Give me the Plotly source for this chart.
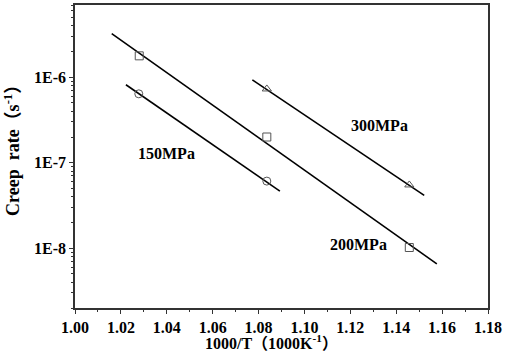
import numpy as np
import plotly.graph_objects as go

# measured creep rates (s^-1) vs 1000/T
x_150 = [1.0278, 1.0836]
y_150 = [6.4e-7, 6.1e-8]
x_200 = [1.028, 1.0836, 1.1457]
y_200 = [1.78e-6, 2.0e-7, 1.02e-8]
x_300 = [1.0836, 1.1457]
y_300 = [7.3e-7, 5.5e-8]

# fitted lines (end points)
fit_x_150 = [1.0222, 1.0893]
fit_y_150 = [8.17e-7, 4.66e-8]
fit_x_200 = [1.016, 1.1577]
fit_y_200 = [3.23e-6, 6.55e-9]
fit_x_300 = [1.0773, 1.1522]
fit_y_300 = [9.31e-7, 4.15e-8]

labels = ["150MPa", "200MPa", "300MPa"]
label_x = [1.040, 1.1235, 1.1326]
label_y = [1.27e-7, 1.11e-8, 2.74e-7]

x_ticks = [1.00, 1.02, 1.04, 1.06, 1.08, 1.10, 1.12, 1.14, 1.16, 1.18]
y_ticks = [1e-8, 1e-7, 1e-6]
y_tick_text = ["1E-8", "1E-7", "1E-6"]

FONT = "Liberation Serif, Times New Roman, Noto Sans CJK SC, serif"
MARK = "#555555"

fig = go.Figure()

for fx, fy in [(fit_x_150, fit_y_150), (fit_x_200, fit_y_200), (fit_x_300, fit_y_300)]:
    fig.add_trace(go.Scatter(x=fx, y=fy, mode="lines",
                             line=dict(color="black", width=1.6), showlegend=False))

for xs, ys, sym in [(x_150, y_150, "circle-open"), (x_200, y_200, "square-open"),
                    (x_300, y_300, "triangle-up-open")]:
    fig.add_trace(go.Scatter(x=xs, y=ys, mode="markers",
                             marker=dict(symbol=sym, size=8, color=MARK, line=dict(width=1)),
                             showlegend=False))

for t, lx, ly in zip(labels, label_x, label_y):
    fig.add_annotation(x=lx, y=np.log10(ly), text="<b>%s</b>" % t, showarrow=False,
                       font=dict(family=FONT, size=16, color="black"))

# axis titles placed as annotations to match the original layout
fig.add_annotation(xref="paper", yref="paper", x=0.476, y=-0.113, xanchor="center",
                   yanchor="middle", showarrow=False,
                   text="<b>1000/T（1000K<sup>-1</sup>）</b>",
                   font=dict(family=FONT, size=16, color="black"))
fig.add_annotation(xref="paper", yref="paper", x=-0.153, y=0.534, xanchor="center",
                   yanchor="middle", showarrow=False, textangle=-90,
                   text="<b>Creep  rate（s<sup>-1</sup>）</b>",
                   font=dict(family=FONT, size=18, color="black"))

axis_common = dict(showline=True, mirror=True, linecolor="#333333", linewidth=1.6,
                   showgrid=False, zeroline=False, ticks="outside", ticklen=4,
                   tickcolor="#333333", tickwidth=1.2,
                   tickfont=dict(family=FONT, size=16, color="black"))

fig.update_xaxes(range=[1.0, 1.18], tickvals=x_ticks,
                 ticktext=["<b>%.2f</b>" % v for v in x_ticks],
                 minor=dict(ticks="outside", ticklen=2, dtick=0.01, tickcolor="#333333"),
                 **axis_common)
fig.update_yaxes(type="log", range=[np.log10(2e-9), np.log10(7e-6)], tickvals=y_ticks,
                 ticktext=["<b>%s</b>" % t for t in y_tick_text],
                 minor=dict(ticks="outside", ticklen=2, dtick="D1", tickcolor="#333333"),
                 **axis_common)

fig.update_layout(width=505, height=353, margin=dict(l=75, r=16, t=3, b=45),
                  plot_bgcolor="white", paper_bgcolor="white")

fig.write_html("out.html", config={"displayModeBar": False},
               post_script="document.body.style.margin='0';")
